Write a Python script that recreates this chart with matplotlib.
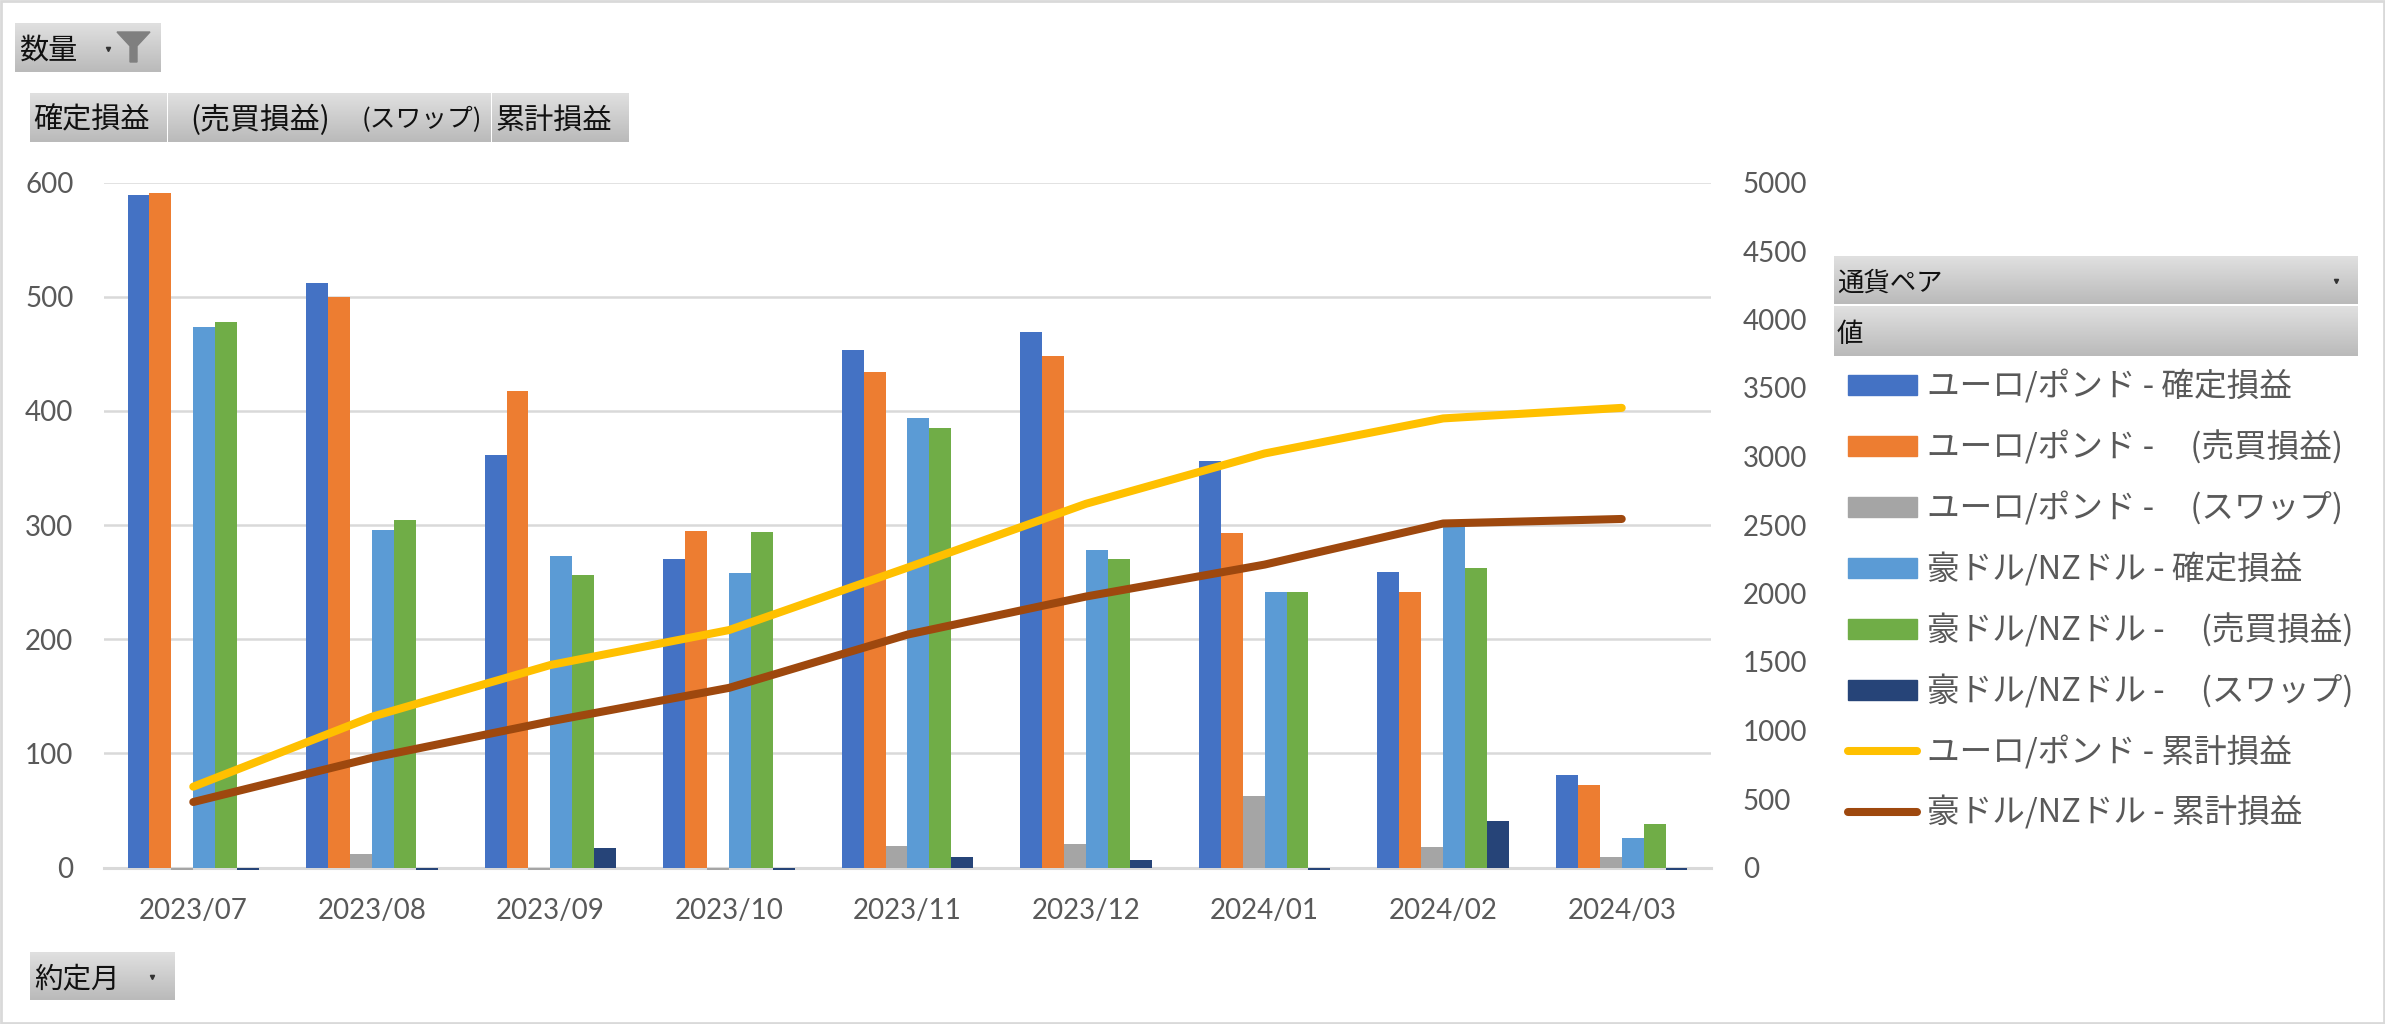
import numpy as np
import matplotlib
matplotlib.use('Agg')
import matplotlib.pyplot as plt
from matplotlib.lines import Line2D
from matplotlib.patches import Patch, Rectangle

plt.rcParams['font.family'] = ['Noto Sans CJK JP', 'DejaVu Sans']

months = ['2023/07', '2023/08', '2023/09', '2023/10', '2023/11', '2023/12', '2024/01', '2024/02', '2024/03']

# bars, left axis
eur_realized = [589, 512, 361, 270, 453, 469, 356, 259, 81]
eur_trade = [591, 500, 417, 295, 434, 448, 293, 241, 72]
eur_swap = [-2, 12, -2, -2, 19, 21, 63, 18, 9]
aud_realized = [473, 296, 273, 258, 394, 278, 241, 300, 26]
aud_trade = [478, 304, 256, 294, 385, 270, 241, 262, 38]
aud_swap = [-2, -2, 17, -2, 9, 7, -2, 41, -2]

# lines, right axis
eur_total = [590, 1100, 1478, 1733, 2189, 2655, 3022, 3278, 3355]
aud_total = [478, 800, 1067, 1311, 1700, 1978, 2211, 2511, 2544]

bar_series = [eur_realized, eur_trade, eur_swap, aud_realized, aud_trade, aud_swap]
bar_colors = ['#4472C4', '#ED7D31', '#A5A5A5', '#5B9BD5', '#70AD47', '#264478']
bar_labels = ['ユーロ/ポンド - 確定損益', 'ユーロ/ポンド -     (売買損益)', 'ユーロ/ポンド -     (スワップ)',
              '豪ドル/NZドル - 確定損益', '豪ドル/NZドル -     (売買損益)', '豪ドル/NZドル -     (スワップ)']
line_labels = ['ユーロ/ポンド - 累計損益', '豪ドル/NZドル - 累計損益']
line_colors = ['#FFC000', '#9E480E']

W, H = 2385, 1024
fig = plt.figure(figsize=(W / 100, H / 100), dpi=100, facecolor='white')


def px_axes(left, top, right, bottom):
    return fig.add_axes([left / W, 1 - bottom / H, (right - left) / W, (bottom - top) / H])


ax = px_axes(104, 182.5, 1711, 867.5)
x = np.arange(len(months))
bw = 1 / 8.15
for i, vals in enumerate(bar_series):
    ax.bar(x + (i - 2.5) * bw, vals, bw, color=bar_colors[i], zorder=3)
ax.set_xlim(-0.5, len(months) - 0.5)
ax.set_ylim(0, 600)
ax.set_yticks(range(0, 601, 100))
ax.set_xticks(x)
ax.set_xticklabels(months, family='Lato', fontsize=20, color='#595959')
ax.grid(axis='y', color='#D9D9D9', lw=1.8, zorder=0)
ax.tick_params(length=0)
ax.tick_params(axis='y', labelsize=20, labelcolor='#595959', pad=22)
ax.tick_params(axis='x', pad=22)
for lab in ax.get_yticklabels():
    lab.set_family('Lato')
for s in ax.spines.values():
    s.set_visible(False)
ax.spines['bottom'].set_visible(True)
ax.spines['bottom'].set_color('#D9D9D9')
ax.spines['bottom'].set_linewidth(2.2)
for b in ax.containers:
    for r in b:
        r.set_clip_on(False)

ax2 = ax.twinx()
ax2.plot(x, eur_total, color=line_colors[0], lw=5.8, solid_capstyle='round', zorder=5)
ax2.plot(x, aud_total, color=line_colors[1], lw=5.8, solid_capstyle='round', zorder=5)
ax2.set_ylim(0, 5000)
ax2.set_yticks(range(0, 5001, 500))
ax2.tick_params(length=0, labelsize=20, labelcolor='#595959', pad=23)
for lab in ax2.get_yticklabels():
    lab.set_family('Lato')
for s in ax2.spines.values():
    s.set_visible(False)

handles = [Patch(color=c) for c in bar_colors]
handles += [Line2D([0], [0], color=c, lw=5.8, solid_capstyle='round') for c in line_colors]
leg = fig.legend(handles, bar_labels + line_labels, loc='upper left', bbox_to_anchor=(1838 / W, 1 - 360 / H),
                 frameon=False, fontsize=23.5, labelcolor='#595959', handlelength=2.12, handleheight=0.55,
                 handletextpad=0.3, labelspacing=0.82, borderpad=0.3, borderaxespad=0)

# pivot field buttons and frame drawn on a full figure overlay in pixels
ov = fig.add_axes([0, 0, 1, 1], zorder=10)
ov.set_xlim(0, W)
ov.set_ylim(H, 0)
ov.axis('off')
ov.patch.set_alpha(0)
ov.add_patch(Rectangle((1, 1), W - 2, H - 2, fill=False, ec='#D9D9D9', lw=2))
grad = np.linspace(0, 1, 64).reshape(-1, 1)
cmap = matplotlib.colors.LinearSegmentedColormap.from_list('btn', ['#E0E0E0', '#BABABA'])


def button(left, top, right, bottom, text, text_x, size=21, arrow=None):
    ov.imshow(grad, extent=(left, right, bottom, top), cmap=cmap, aspect='auto', zorder=1)
    ov.text(text_x, (top + bottom) / 2 + 3, text, fontsize=size, color='#111111', va='center', ha='left', zorder=2)
    if arrow:
        ov.plot([arrow], [(top + bottom) / 2 + 1], marker='v', ms=3, color='#333333', zorder=2)


button(15, 23, 161, 72, '数量', 19, arrow=108)
ov.fill([117, 150, 137, 137, 130, 130], [32, 32, 46, 62, 62, 46], color='#7F7F7F', zorder=2)
button(30, 93, 166.5, 142, '確定損益', 33)
button(167.5, 93, 345, 142, '(売買損益)', 190, size=21.5)
button(346, 93, 491, 142, '(スワップ)', 362, size=18.5)
button(492, 93, 629, 142, '累計損益', 496)
button(30, 952, 174.5, 1000, '約定月', 34, size=20.5, arrow=152)
button(1834, 256, 2358, 304, '通貨ペア', 1837, size=19, arrow=2336)
button(1834, 306, 2358, 356, '値', 1837, size=19)
ov.set_xlim(0, W)
ov.set_ylim(H, 0)

fig.savefig('out.png', dpi=100)
